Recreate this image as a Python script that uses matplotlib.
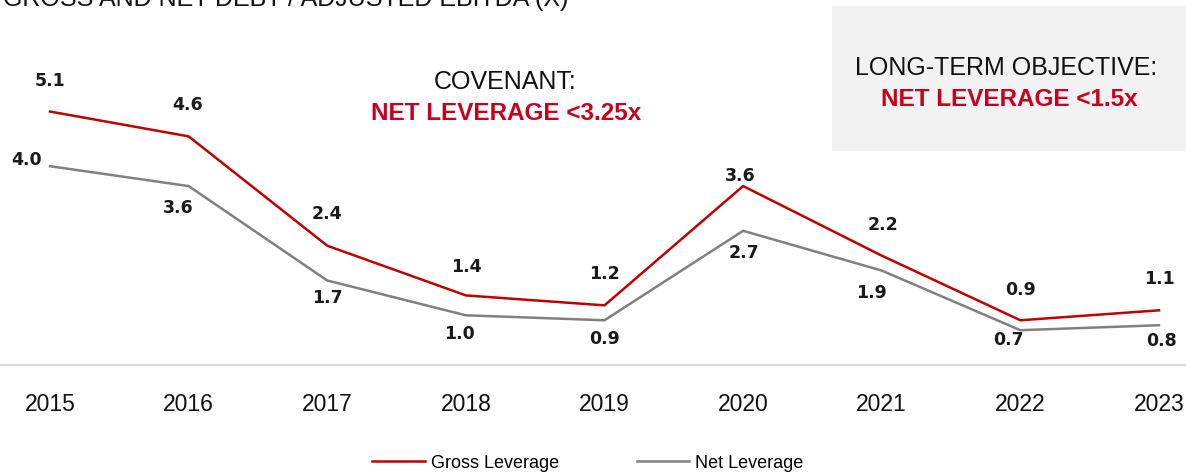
import matplotlib
matplotlib.use("Agg")
import matplotlib.pyplot as plt
from matplotlib.patches import Rectangle

years = ["2015", "2016", "2017", "2018", "2019", "2020", "2021", "2022", "2023"]
gross_leverage = [5.1, 4.6, 2.4, 1.4, 1.2, 3.6, 2.2, 0.9, 1.1]
net_leverage = [4.0, 3.6, 1.7, 1.0, 0.9, 2.7, 1.9, 0.7, 0.8]

# label offsets in pixels (dx, dy)
gross_offsets = [(0, 31), (-1, 31), (0, 32), (0, 28), (0, 31), (-3, 10), (1, 31), (0, 30), (0, 31)]
net_offsets = [(-23, 6), (-10, -22), (0, -17), (-6, -19), (0, -19), (1, -22), (-10, -22), (-12, -10), (3, -16)]

RED = "#C00000"
TXT_RED = "#C8001E"
GRAY = "#808080"
SANS = "Liberation Sans"

W, H = 1186, 472
fig = plt.figure(figsize=(W / 100, H / 100), dpi=100)

base_px = 365
ax = fig.add_axes([0, (H - base_px) / H, 1, base_px / H])
x = list(range(len(years)))
ppu = 138.6
ax.set_xlim(-50 / ppu, 8 + 27 / ppu)
ax.set_ylim(0, base_px / 49.7)

ax.plot(x, gross_leverage, color=RED, lw=1.8, solid_joinstyle="miter", label="Gross Leverage")
ax.plot(x, net_leverage, color=GRAY, lw=1.8, solid_joinstyle="miter", label="Net Leverage")

for vals, offs in ((gross_leverage, gross_offsets), (net_leverage, net_offsets)):
    for i, v in enumerate(vals):
        dx, dy = offs[i]
        ax.annotate(f"{v:.1f}", (i, v), xytext=(dx, dy), textcoords="offset pixels",
                    ha="center", va="center", fontsize=12.5, fontweight="bold",
                    family="DejaVu Sans", color="#1a1a1a", annotation_clip=False)

for s in ["top", "right", "left"]:
    ax.spines[s].set_visible(False)
ax.spines["bottom"].set_color("#D9D9D9")
ax.spines["bottom"].set_linewidth(1.6)
ax.set_yticks([])
ax.set_xticks(x)
ax.set_xticklabels(years, fontsize=16.5, family=SANS, color="#111111")
ax.tick_params(axis="x", length=0, pad=20)
ax.patch.set_alpha(0)

# objective box
fig.patches.append(Rectangle((832 / W, 1 - 151 / H), (W - 832) / W, (151 - 6) / H,
                             transform=fig.transFigure, facecolor="#F2F2F2",
                             edgecolor="none", zorder=0))

fig.text(1006 / W, 1 - 68 / H, "LONG-TERM OBJECTIVE:", ha="center", va="center",
         fontsize=18, family=SANS, color="#111111")
fig.text(1009 / W, 1 - 100 / H, "NET LEVERAGE <1.5x", ha="center", va="center",
         fontsize=17.5, family=SANS, fontweight="bold", color=TXT_RED)

fig.text(505 / W, 1 - 82 / H, "COVENANT:", ha="center", va="center",
         fontsize=18, family=SANS, color="#111111")
fig.text(506 / W, 1 - 113 / H, "NET LEVERAGE <3.25x", ha="center", va="center",
         fontsize=17.5, family=SANS, fontweight="bold", color=TXT_RED)

fig.text(3 / W, 1 - 6 / H, "GROSS AND NET DEBT / ADJUSTED EBITDA (X)", ha="left",
         va="baseline", fontsize=18, family=SANS, color="#111111")

fig.legend(loc="center", bbox_to_anchor=(588 / W, 9 / H), ncol=2, frameon=False,
           prop={"family": SANS, "size": 13},
           handlelength=2.9, handletextpad=0.35, columnspacing=4.3, borderpad=0)

fig.savefig("out.png", dpi=100)
